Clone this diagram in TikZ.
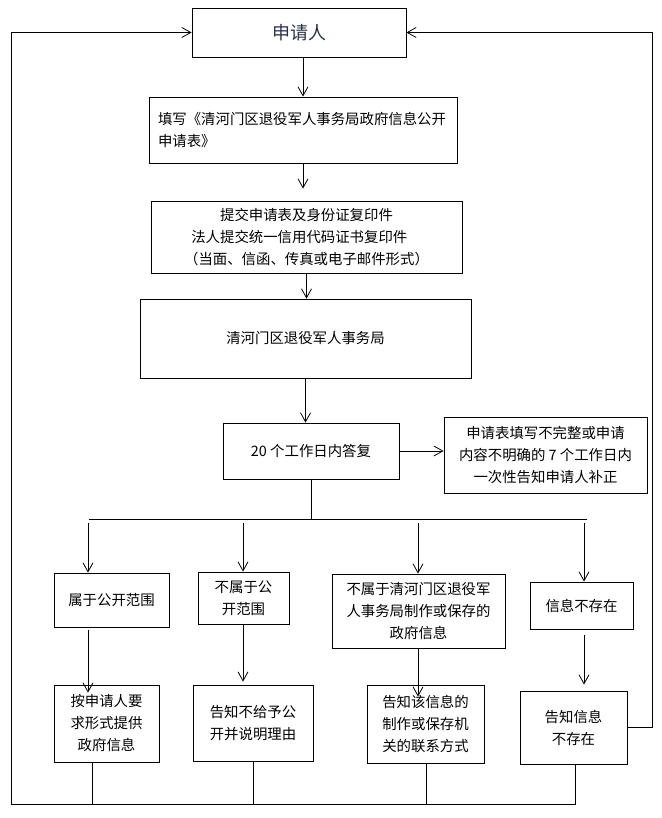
\documentclass[tikz,border=0pt]{standalone}
\usepackage{fontspec}
\setmainfont{Noto Sans CJK SC}
\usepackage{tikz}
\usetikzlibrary{arrows.meta,positioning}
\definecolor{applicant}{RGB}{38,48,72}
\tikzstyle{box} = [draw, line width=0.8pt, inner sep=0pt, align=center, font=\fontsize{14.4}{22}\selectfont]
\tikzstyle{arrow} = [line width=0.8pt,->,>={Straight Barb[length=9pt,width=10pt]}]
\tikzstyle{line} = [line width=0.8pt]

\begin{document}
\begin{tikzpicture}[x=1pt, y=-1pt]
            \useasboundingbox (0,0) rectangle (661,818);
            \node[box, minimum width=214, minimum height=49, text=applicant, font=\fontsize{18}{22}\selectfont] (P) at (299,32.5) {申请人};
            \node[box, minimum width=308, minimum height=66, align=left, text width=290] (F) at (303,130) {填写《清河门区退役军人事务局政府信息公开\\申请表》};
            \node[box, minimum width=311, minimum height=72] (S) at (306.5,237) {提交申请表及身份证复印件\\法人提交统一信用代码证书复印件\hphantom{一}\\（当面、信函、传真或电子邮件形式）};
            \node[box, minimum width=331, minimum height=79] (B) at (305.5,338.5) {清河门区退役军人事务局};
            \node[box, minimum width=176, minimum height=56] (D) at (311,451) {20 个工作日内答复};
            \node[box, minimum width=203, minimum height=76] (C) at (545.5,455) {申请表填写不完整或申请\\内容不明确的 7 个工作日内\\一次性告知申请人补正};
            
            \node[box, minimum width=115, minimum height=54] (R1) at (111.5,600) {属于公开范围};
            \node[box, minimum width=91, minimum height=52] (R2) at (243.5,598) {不属于公\\开范围};
            \node[box, minimum width=173, minimum height=74] (R3) at (418.5,611) {不属于清河门区退役军\\人事务局制作或保存的\\政府信息};
            \node[box, minimum width=103, minimum height=47] (R4) at (581.5,605.5) {信息不存在};
            
            \node[box, minimum width=105, minimum height=77] (T1) at (106.5,723.5) {按申请人要\\求形式提供\\政府信息};
            \node[box, minimum width=120, minimum height=76] (T2) at (253,723) {告知不给予公\\开并说明理由};
            \node[box, minimum width=117, minimum height=78] (T3) at (425.5,724) {告知该信息的\\制作或保存机\\关的联系方式};
            \node[box, minimum width=107, minimum height=73] (T4) at (573.5,727.5) {告知信息\\不存在};
            
            \coordinate (BL) at (89,519);
            \coordinate (BR) at (587,519);
            \coordinate (A1) at (88,523);
            \coordinate (A2) at (243,523);
            \coordinate (A3) at (418,523);
            \coordinate (A4) at (584,523);
            \coordinate (K1) at (92,804);
            \coordinate (K2) at (253,804);
            \coordinate (K3) at (426,804);
            \coordinate (K4) at (575,804);
            \coordinate (LB) at (11,804);
            \coordinate (RT) at (652,32.5);
            
            \draw[arrow] (F.north |- P.south) -- (F.north);
            \draw[arrow, shorten >=12pt] (F.south) -- (F.south |- S.north);
            \draw[arrow] (S.south) -- (S.south |- B.north);
            \draw[arrow] (B.south) -- (B.south |- D.north);
            \draw[arrow] (D.east) -- (D.east -| C.west);
            
            \draw[line] (D.south) -- (D.south |- BL);
            \draw[line] (BL) -- (BR);
            \draw[arrow] (A1) -- (A1 |- R1.north);
            \draw[arrow] (A2) -- (A2 |- R2.north);
            \draw[arrow] (A3) -- (A3 |- R3.north);
            \draw[arrow] (A4) -- (A4 |- R4.north);
            
            \draw[arrow, shorten <=3pt, shorten >=-8pt] (A1 |- R1.south) -- (A1 |- T1.north);
            \draw[arrow, shorten >=3pt] (A2 |- R2.south) -- (A2 |- T2.north);
            \draw[arrow, shorten >=-12pt] (A3 |- R3.south) -- (A3 |- T3.north);
            \draw[arrow, shorten <=6pt, shorten >=6pt] (A4 |- R4.south) -- (A4 |- T4.north);
            
            \draw[line] (T1.south -| K1) -- (K1);
            \draw[line] (T2.south -| K2) -- (K2);
            \draw[line] (T3.south -| K3) -- (K3);
            \draw[arrow] (T4.south -| K4) -- (K4) -- (LB) |- (P.west);
            \draw[arrow] (T4.east) -| (RT) -- (P.east);
        \end{tikzpicture}
\end{document}
